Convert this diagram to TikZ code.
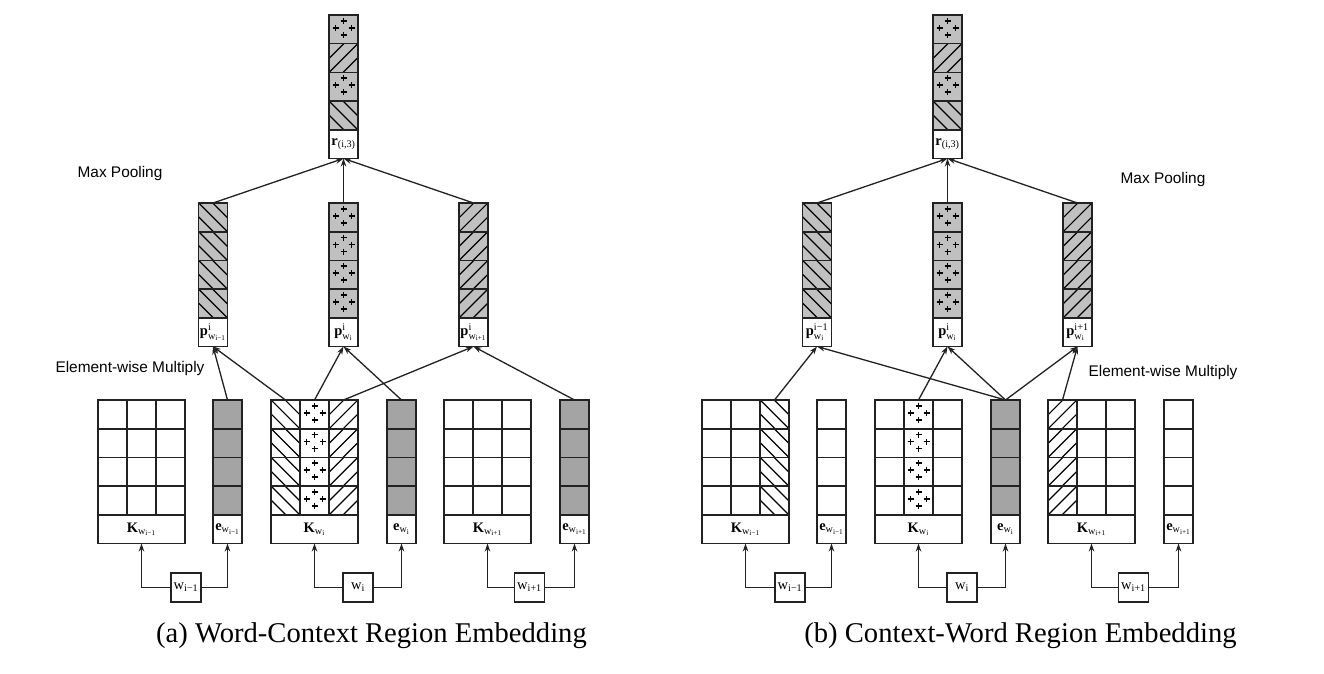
\documentclass[tikz,border=0pt]{standalone}
\usepackage{fontspec}
\usepackage{amsmath}
\setmainfont{Liberation Serif}
\newfontfamily\lsans{Liberation Sans}
\usetikzlibrary{arrows.meta}
\definecolor{bord}{HTML}{222222}
\definecolor{pgray}{HTML}{C0C0C0}
\definecolor{egray}{HTML}{A4A4A4}
\tikzset{
 cell/.style={draw=bord,line width=1.6pt,minimum width=29,minimum height=28.7,inner sep=0.3pt,outer sep=0pt,fill=white,font=\fontsize{14.5}{16}\selectfont},
 pfill/.style={fill=pgray},
 efill/.style={fill=egray},
 nopat/.style={},
 mk/.style={draw=black,line width=1.2pt},
 bh/.style={path picture={\foreach \k in {-14,0,14}{\draw[mk] ([xshift=\k]path picture bounding box.center) ++(-20,-20) -- ++(40,40);}}},
 fh/.style={path picture={\foreach \k in {-14,0,14}{\draw[mk] ([xshift=\k]path picture bounding box.center) ++(-20,20) -- ++(40,-40);}}},
 pl/.style={path picture={\foreach \dx/\dy in {0/-8.5,-8/-1.5,8/-1.5,0/5.5}{\draw[mk,line width=1.6pt] ([shift={(\dx-3,\dy)}]path picture bounding box.center) -- ++(6,0) ([shift={(\dx,\dy-3)}]path picture bounding box.center) -- ++(0,6);}}},
 wbox/.style={draw=bord,line width=1.6pt,minimum width=30,minimum height=29,inner sep=0.3pt,fill=white,font=\fontsize{14.5}{16}\selectfont},
 arr/.style={draw=bord,line width=1.3pt,-{Stealth[length=8pt,width=5.5pt]}},
 lbl/.style={font=\lsans\fontsize{15.4}{18}\selectfont},
 captext/.style={font=\fontsize{28.6}{32}\selectfont}
}
% vector: name, x centre, y top, cell style, label
\newcommand\vect[5]{%
 \foreach \r in {1,...,4}{\node[cell,#4] (#1-\r) at ({#2},{#3+(\r-0.5)*28.7}) {};}
 \node[cell] (#1-lab) at ({#2},{#3+4.5*28.7}) {#5};}
% one column of a matrix: name, x centre, style, column index
\newcommand\kcol[4]{%
 \foreach \r in {1,...,4}{\node[cell,#3] (#1-#4-\r) at ({#2},{400+(\r-0.5)*28.7}) {};}}
% matrix: name, x left, styles of three columns, label
\newcommand\kmat[6]{%
 \kcol{#1}{#2+14.5}{#3}{1}\kcol{#1}{#2+43.5}{#4}{2}\kcol{#1}{#2+72.5}{#5}{3}%
 \node[cell,minimum width=87] (#1-lab) at ({#2+43.5},{400+4.5*28.7}) {#6};}
% pooled column
\newcommand\rcol[2]{%
 \node[cell,pfill,pl] (#1-1) at ({#2},{15+0.5*28.7}) {};
 \node[cell,pfill,fh] (#1-2) at ({#2},{15+1.5*28.7}) {};
 \node[cell,pfill,pl] (#1-3) at ({#2},{15+2.5*28.7}) {};
 \node[cell,pfill,bh] (#1-4) at ({#2},{15+3.5*28.7}) {};
 \node[cell] (#1-lab) at ({#2},{15+4.5*28.7}) {$\textbf{r}_{\text{(i,3)}}$};}
\begin{document}
\begin{tikzpicture}[x=1pt,y=-1pt]
\useasboundingbox[fill=white] (0,0) rectangle (1324,674);
% ================= panel (a) =================
\rcol{aR}{343.5}
\vect{aP1}{213}{203}{pfill,bh}{$\textbf{p}^{\text{i}}_{\text{w}_{\text{i−1}}}$}
\vect{aP2}{343.5}{203}{pfill,pl}{$\textbf{p}^{\text{i}}_{\text{w}_{\text{i}}}$}
\vect{aP3}{473.5}{203}{pfill,fh}{$\textbf{p}^{\text{i}}_{\text{w}_{\text{i+1}}}$}
\kmat{aK1}{98}{nopat}{nopat}{nopat}{$\textbf{K}_{\text{w}_{\text{i−1}}}$}
\vect{aE1}{227.5}{400}{efill}{$\textbf{e}_{\text{w}_{\text{i−1}}}$}
\kmat{aK2}{271}{bh}{pl}{fh}{$\textbf{K}_{\text{w}_{\text{i}}}$}
\vect{aE2}{401.5}{400}{efill}{$\textbf{e}_{\text{w}_{\text{i}}}$}
\kmat{aK3}{444}{nopat}{nopat}{nopat}{$\textbf{K}_{\text{w}_{\text{i+1}}}$}
\vect{aE3}{574.5}{400}{efill}{$\textbf{e}_{\text{w}_{\text{i+1}}}$}
\node[wbox] (aW1) at (186,587.5) {w$_{\text{i−1}}$};
\node[wbox] (aW2) at (358,587.5) {w$_{\text{i}}$};
\node[wbox] (aW3) at (529.5,587.5) {w$_{\text{i+1}}$};
\draw[arr] (aW1.west) -| (aK1-lab.south);
\draw[arr] (aW1.east) -| (aE1-lab.south);
\draw[arr] (aW2.west) -| (aK2-lab.south);
\draw[arr] (aW2.east) -| (aE2-lab.south);
\draw[arr] (aW3.west) -| (aK3-lab.south);
\draw[arr] (aW3.east) -| (aE3-lab.south);
\draw[arr] (aE1-1.north) -- (aP1-lab.south);
\draw[arr] (aK2-1-1.north) -- (aP1-lab.south);
\draw[arr] (aK2-2-1.north) -- (aP2-lab.south);
\draw[arr] (aE2-1.north) -- (aP2-lab.south);
\draw[arr] (aK2-3-1.north) -- (aP3-lab.south);
\draw[arr] (aE3-1.north) -- (aP3-lab.south);
\draw[arr] (aP1-1.north) -- (aR-lab.south);
\draw[arr] (aP2-1.north) -- (aR-lab.south);
\draw[arr] (aP3-1.north) -- (aR-lab.south);
\node[lbl] (aMax) at (120,174) {Max Pooling};
\node[lbl] (aMul) at (130,369) {Element-wise Multiply};
\node[captext] (aCap) at (371.5,636) {(a) Word-Context Region Embedding};
% ================= panel (b) =================
\rcol{bR}{947.5}
\vect{bP1}{817}{203}{pfill,bh}{$\textbf{p}^{\text{i−1}}_{\text{w}_{\text{i}}}$}
\vect{bP2}{947.5}{203}{pfill,pl}{$\textbf{p}^{\text{i}}_{\text{w}_{\text{i}}}$}
\vect{bP3}{1077.5}{203}{pfill,fh}{$\textbf{p}^{\text{i+1}}_{\text{w}_{\text{i}}}$}
\kmat{bK1}{702}{nopat}{nopat}{bh}{$\textbf{K}_{\text{w}_{\text{i−1}}}$}
\vect{bE1}{831.5}{400}{nopat}{$\textbf{e}_{\text{w}_{\text{i−1}}}$}
\kmat{bK2}{875}{nopat}{pl}{nopat}{$\textbf{K}_{\text{w}_{\text{i}}}$}
\vect{bE2}{1005.5}{400}{efill}{$\textbf{e}_{\text{w}_{\text{i}}}$}
\kmat{bK3}{1048}{fh}{nopat}{nopat}{$\textbf{K}_{\text{w}_{\text{i+1}}}$}
\vect{bE3}{1178.5}{400}{nopat}{$\textbf{e}_{\text{w}_{\text{i+1}}}$}
\node[wbox] (bW1) at (790,587.5) {w$_{\text{i−1}}$};
\node[wbox] (bW2) at (962,587.5) {w$_{\text{i}}$};
\node[wbox] (bW3) at (1133.5,587.5) {w$_{\text{i+1}}$};
\draw[arr] (bW1.west) -| (bK1-lab.south);
\draw[arr] (bW1.east) -| (bE1-lab.south);
\draw[arr] (bW2.west) -| (bK2-lab.south);
\draw[arr] (bW2.east) -| (bE2-lab.south);
\draw[arr] (bW3.west) -| (bK3-lab.south);
\draw[arr] (bW3.east) -| (bE3-lab.south);
\draw[arr] (bK1-3-1.north) -- (bP1-lab.south);
\draw[arr] (bE2-1.north) -- (bP1-lab.south);
\draw[arr] (bK2-2-1.north) -- (bP2-lab.south);
\draw[arr] (bE2-1.north) -- (bP2-lab.south);
\draw[arr] (bE2-1.north) -- (bP3-lab.south);
\draw[arr] (bK3-1-1.north) -- (bP3-lab.south);
\draw[arr] (bP1-1.north) -- (bR-lab.south);
\draw[arr] (bP2-1.north) -- (bR-lab.south);
\draw[arr] (bP3-1.north) -- (bR-lab.south);
\node[lbl] (bMax) at (1163,180) {Max Pooling};
\node[lbl] (bMul) at (1163,373) {Element-wise Multiply};
\node[captext] (bCap) at (1020.5,636) {(b) Context-Word Region Embedding};
\end{tikzpicture}
\end{document}
